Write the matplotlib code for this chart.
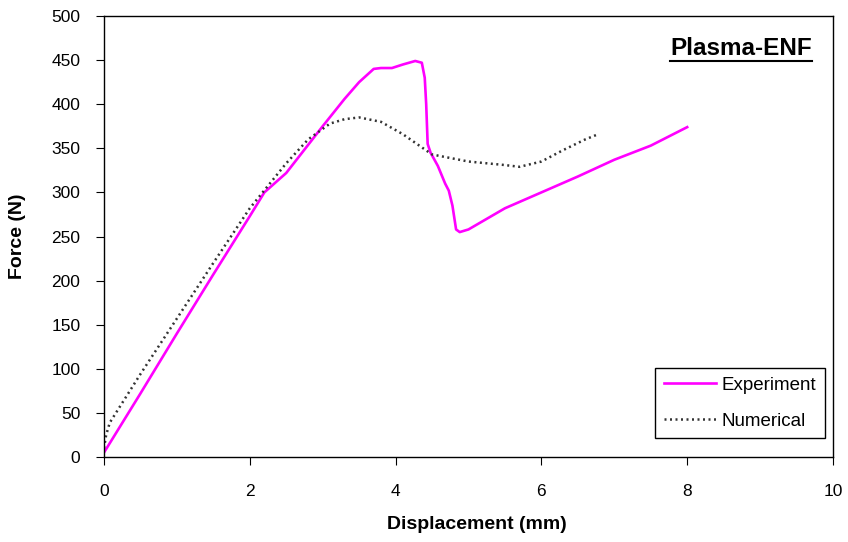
import matplotlib.pyplot as plt
from matplotlib.lines import Line2D

plt.rcParams['font.family'] = ['Liberation Sans', 'DejaVu Sans']

# experiment curve
exp_x = [0.0, 0.5, 1.0, 1.5, 2.0, 2.2, 2.5, 3.0, 3.3, 3.5, 3.7, 3.8, 3.95, 4.1, 4.27, 4.36,
         4.4, 4.42, 4.44, 4.48, 4.58, 4.68, 4.73, 4.78, 4.83, 4.88, 5.0, 5.5, 6.0, 6.5, 7.0, 7.5, 8.0]
exp_y = [5, 72, 140, 207, 273, 300, 322, 375, 406, 425, 440, 441, 441, 445, 449, 447,
         430, 400, 355, 345, 330, 310, 302, 285, 258, 255, 258, 282, 300, 318, 337, 353, 374]

# numerical curve
num_x = [0.0, 0.03, 0.08, 0.5, 1.0, 1.5, 2.0, 2.5, 2.8, 3.1, 3.3, 3.5, 3.8, 4.1, 4.5,
         5.0, 5.5, 5.7, 6.0, 6.3, 6.6, 6.78]
num_y = [10, 25, 39, 94, 157, 220, 282, 333, 360, 378, 383, 385, 380, 366, 343,
         335, 331, 329, 335, 348, 360, 366]

fig = plt.figure(figsize=(8.48, 5.42), dpi=100)
ax = fig.add_axes([0.1226, 0.1568, 0.8597, 0.8137])

ax.plot(exp_x, exp_y, color='#ff00ff', lw=1.9, label='Experiment')
ax.plot(num_x, num_y, color='#333333', lw=1.8, linestyle=(0, (0.8, 1.4)), label='Numerical')

ax.set_xlim(0, 10)
ax.set_ylim(0, 500)
ax.set_xticks(range(0, 11, 2))
ax.set_yticks(range(0, 501, 50))
for s in ax.spines.values():
    s.set_linewidth(1.0)
ax.tick_params(direction='out', length=6, labelsize=12.5)
ax.tick_params(axis='x', pad=13.5)
ax.tick_params(axis='y', pad=11)
ax.set_xlabel('Displacement (mm)', fontsize=14, fontweight='bold', va='center')
ax.set_ylabel('Force (N)', fontsize=14, fontweight='bold', va='center')
ax.xaxis.set_label_coords(0.512, -0.152)
ax.yaxis.set_label_coords(-0.118, 0.5)

leg = ax.legend(loc='lower right', bbox_to_anchor=(0.989, 0.043), borderaxespad=0,
                fontsize=13.5, fancybox=False, edgecolor='black', framealpha=1,
                handlelength=2.8, handletextpad=0.3, borderpad=0.45, labelspacing=1.0)
leg.get_frame().set_linewidth(1.0)

t = ax.text(0.971, 0.926, 'Plasma-ENF', transform=ax.transAxes, ha='right', va='center',
            fontsize=17.5, fontweight='bold')

fig.canvas.draw()
bb = t.get_window_extent().transformed(fig.transFigure.inverted())
fig.add_artist(Line2D([bb.x0, bb.x1], [bb.y0 - 0.001, bb.y0 - 0.001],
                      transform=fig.transFigure, color='black', lw=1.5))

fig.savefig('out.png', dpi=100)
